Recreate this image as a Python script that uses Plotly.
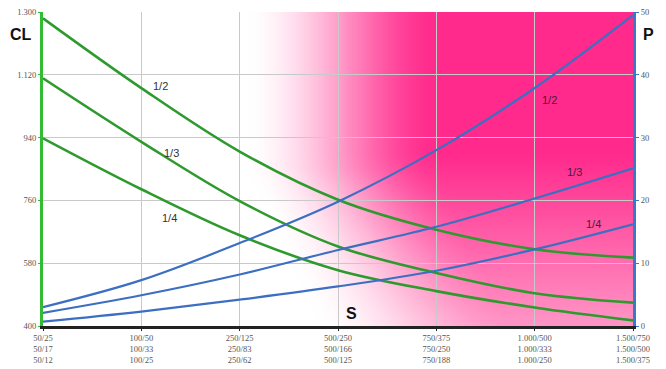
import base64, struct, zlib
import plotly.graph_objects as go

# ---- data ----
categories = ["50/25<br>50/17<br>50/12", "100/50<br>100/33<br>100/25",
              "250/125<br>250/83<br>250/62", "500/250<br>500/166<br>500/125",
              "750/375<br>750/250<br>750/188", "1.000/500<br>1.000/333<br>1.000/250",
              "1.500/750<br>1.500/500<br>1.500/375"]
cl_half = [1282, 1082, 900, 762, 676, 620, 596]
cl_third = [1110, 928, 758, 628, 552, 494, 467]
cl_quarter = [938, 792, 660, 560, 500, 453, 416]
p_half = [3.0, 7.3, 13.2, 19.8, 28.0, 37.9, 49.5]
p_third = [2.1, 4.9, 8.2, 12.1, 15.8, 20.3, 25.1]
p_quarter = [0.7, 2.3, 4.2, 6.3, 8.8, 12.2, 16.2]
cl_ticks = [400, 580, 760, 940, 1120, 1300]
cl_ticktext = ["400", "580", "760", "940", "1.120", "1.300"]
p_ticks = [0, 10, 20, 30, 40, 50]

xpos = list(range(len(categories)))

# ---- background gradient image (decoration) ----
def make_png(w, h, rgb_fn):
    raw = bytearray()
    for j in range(h):
        raw.append(0)
        for i in range(w):
            r, g, b = rgb_fn(i / (w - 1), j / (h - 1))
            raw += bytes((r, g, b))
    def chunk(tag, data):
        c = struct.pack(">I", len(data)) + tag + data
        return c + struct.pack(">I", zlib.crc32(tag + data) & 0xffffffff)
    png = b"\x89PNG\r\n\x1a\n"
    png += chunk(b"IHDR", struct.pack(">IIBBBBB", w, h, 8, 2, 0, 0, 0))
    png += chunk(b"IDAT", zlib.compress(bytes(raw), 9))
    png += chunk(b"IEND", b"")
    return "data:image/png;base64," + base64.b64encode(png).decode()

PINK = (255, 42, 140)

def grad(fx, fy):
    start = 0.34 + 0.12 * max(0.0, fy - 0.5) / 0.5
    sx = (fx - start) / 0.34
    sx = max(0.0, min(1.0, sx))
    sx = sx * sx * (3 - 2 * sx)
    v = 1.0 - 0.5 * max(0.0, (fy - 0.45) / 0.55)
    t = sx * v
    return tuple(int(round(255 + (c - 255) * t)) for c in PINK)

img = make_png(160, 80, grad)

GREEN = "#2e9a2e"
BLUE = "#3c6fc2"

fig = go.Figure()
for ys in (cl_half, cl_third, cl_quarter):
    fig.add_trace(go.Scatter(x=xpos, y=ys, mode="lines",
                             line=dict(color=GREEN, width=2.6, shape="spline", smoothing=1.0),
                             hoverinfo="skip", showlegend=False))
for ys in (p_half, p_third, p_quarter):
    fig.add_trace(go.Scatter(x=xpos, y=ys, mode="lines", yaxis="y2",
                             line=dict(color=BLUE, width=2.2, shape="spline", smoothing=1.0),
                             hoverinfo="skip", showlegend=False))

tickfont = dict(family="Liberation Serif", size=8.5, color="#555555")

fig.update_layout(
    width=666, height=369,
    margin=dict(l=43, r=33, t=12, b=43),
    paper_bgcolor="white", plot_bgcolor="white",
    xaxis=dict(range=[0, 6], tickvals=xpos, ticktext=categories, tickfont=tickfont,
               showgrid=True, gridcolor="#c9c9c9", gridwidth=1, automargin=False,
               showline=True, linecolor="#222222", linewidth=3,
               ticks="outside", ticklen=2, tickcolor="#222222", zeroline=False),
    yaxis=dict(range=[400, 1300], tickvals=cl_ticks, ticktext=cl_ticktext, tickfont=tickfont,
               showgrid=True, gridcolor="#c9c9c9", gridwidth=1, automargin=False,
               showline=True, linecolor="#33bb33", linewidth=3,
               ticks="outside", ticklen=2, tickcolor="#33bb33", zeroline=False),
    yaxis2=dict(range=[0, 50], tickvals=p_ticks, tickfont=tickfont, overlaying="y", side="right",
                showgrid=False, showline=True, linecolor="#3c78c8", linewidth=3, automargin=False,
                ticks="outside", ticklen=3, tickcolor="#3c78c8", zeroline=False),
    images=[dict(source=img, xref="x", yref="y", x=0, y=1300, sizex=6, sizey=900,
                 sizing="stretch", layer="below", xanchor="left", yanchor="top")],
)

lab = dict(family="Liberation Sans", size=16, color="#111111")
fig.add_annotation(text="<b>CL</b>", x=-0.037, y=0.927, xref="paper", yref="paper", showarrow=False,
                   font=lab, xanchor="center", yanchor="middle")
fig.add_annotation(text="<b>P</b>", x=1.027, y=0.927, xref="paper", yref="paper", showarrow=False,
                   font=lab, xanchor="center", yanchor="middle")
fig.add_annotation(text="<b>S</b>", x=3.14, y=435, xref="x", yref="y", showarrow=False, font=lab)

small = dict(family="Liberation Sans", size=11, color="#333333")
for tx, x, y in (("1/2", 1.19, 1087), ("1/3", 1.31, 897), ("1/4", 1.29, 711)):
    fig.add_annotation(text=tx, x=x, y=y, xref="x", yref="y", showarrow=False, font=small)
for tx, x, y in (("1/2", 5.15, 36), ("1/3", 5.41, 24.5), ("1/4", 5.6, 16.2)):
    fig.add_annotation(text=tx, x=x, y=y, xref="x", yref="y2", showarrow=False,
                       font=dict(family="Liberation Sans", size=11, color="#4a1a3a"))

fig.write_html("out.html", config={"displayModeBar": False},
               post_script="document.body.style.margin='0px';document.body.style.padding='0px';")
